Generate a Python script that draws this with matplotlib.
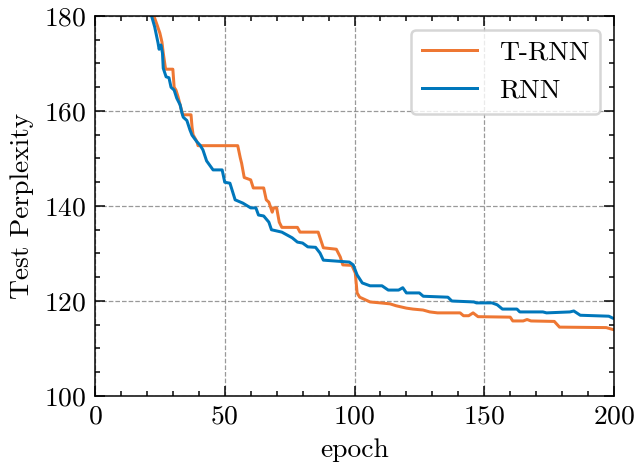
import matplotlib.pyplot as plt
from matplotlib.ticker import MultipleLocator

# T-RNN test perplexity (epoch, value)
trnn_epoch = [22, 22.7, 24, 24.3, 25, 25.8, 26.3, 27.2, 30, 30.5, 31.2, 32, 32.8, 33.8, 37,
              37.4, 37.8, 39.3, 39.7, 55, 56, 56.5, 57.5, 60, 61, 65, 66, 67, 68.3, 68.8,
              70, 71, 72, 78, 79, 86, 88, 93, 94.5, 95.5, 99, 100.3, 101, 102, 106, 110,
              113.7, 116, 120, 122.5, 126.4, 129, 132, 140.7, 142, 144, 145.7, 147.6, 160,
              161, 165, 166.5, 168, 177, 179, 197, 199.6]
trnn_ppl = [182, 180, 178, 177.5, 176.4, 174.5, 172.2, 168.8, 168.8, 165, 164.4, 163, 161.3,
            159.2, 159.2, 156.6, 155, 153.5, 152.7, 152.7, 150.1, 149, 146, 145.5, 143.8,
            143.8, 141.3, 140.8, 138.7, 139.6, 139.6, 136.6, 135.5, 135.5, 134.5, 134.5,
            131.2, 130.9, 129.3, 127.6, 127.5, 125.9, 121.7, 120.8, 119.8, 119.6, 119.4,
            119.0, 118.5, 118.3, 118.1, 117.7, 117.5, 117.5, 116.9, 116.9, 117.5, 116.7,
            116.6, 115.8, 115.8, 116.1, 115.8, 115.7, 114.5, 114.4, 114.0]

# RNN test perplexity
rnn_epoch = [21, 21.8, 23, 24.3, 24.7, 25.4, 26, 26.3, 27.4, 28.5, 29.3, 30.5, 31.5, 32.8,
             33.5, 34, 35.4, 36.6, 37.4, 39.3, 40.5, 41.6, 43, 45.5, 49, 50, 52, 54, 57,
             60, 62, 63, 65, 67, 68, 72, 74, 76, 78, 80, 82, 85, 86.7, 88, 98, 99.5, 101,
             103, 106, 110.6, 113, 117, 118.6, 120, 125, 126.5, 136, 137.5, 146, 147, 153,
             155, 157, 162.6, 163.7, 172.6, 174, 183, 184.5, 187, 198, 199.5]
rnn_ppl = [182, 180, 177.7, 174.3, 173, 173.9, 172.2, 169, 167.2, 167, 165, 164.4, 162.7,
           161.3, 159.6, 158.7, 158, 156, 154.9, 153.5, 152.8, 151.8, 149.5, 147.6, 147.6,
           145, 144.8, 141.3, 140.6, 139.6, 139.6, 138.1, 137.9, 136.6, 135, 134.5, 133.9,
           133.3, 132.4, 132.2, 131.4, 131.3, 130.1, 128.6, 128.2, 127.6, 125.5, 123.8,
           123.2, 123.2, 122.3, 122.3, 122.8, 121.7, 121.7, 121.0, 120.8, 120.0, 119.8,
           119.6, 119.6, 119.2, 118.3, 118.3, 117.7, 117.7, 117.5, 117.7, 117.9, 117.0,
           116.8, 116.4]

plt.rcParams['font.family'] = 'serif'
plt.rcParams['font.serif'] = ['cmr10']
plt.rcParams['mathtext.fontset'] = 'cm'
plt.rcParams['axes.formatter.use_mathtext'] = True
plt.rcParams['font.size'] = 11

fig = plt.figure(figsize=(636 / 180, 466 / 180), dpi=180)
ax = fig.add_axes([95 / 636, 1 - 396 / 466, 519 / 636, 380 / 466])

ax.plot(trnn_epoch, trnn_ppl, color='#EE7733', linewidth=1.2, label='T-RNN')
ax.plot(rnn_epoch, rnn_ppl, color='#0077BB', linewidth=1.2, label='RNN')

ax.set_xlim(0, 200)
ax.set_ylim(100, 180)
ax.xaxis.set_major_locator(MultipleLocator(50))
ax.xaxis.set_minor_locator(MultipleLocator(10))
ax.yaxis.set_major_locator(MultipleLocator(20))
ax.yaxis.set_minor_locator(MultipleLocator(5))
ax.tick_params(which='both', direction='in', top=True, right=True, width=0.6)
ax.tick_params(which='major', length=4)
ax.tick_params(which='minor', length=2)
for s in ax.spines.values():
    s.set_linewidth(0.6)

ax.grid(True, which='major', linestyle='--', color='gray', linewidth=0.5, alpha=0.8)

ax.set_xlabel('epoch')
ax.set_ylabel('Test Perplexity')
ax.legend(loc='upper right', fancybox=True, framealpha=0.8, edgecolor='#cccccc')

fig.savefig('out.png', dpi=180)
